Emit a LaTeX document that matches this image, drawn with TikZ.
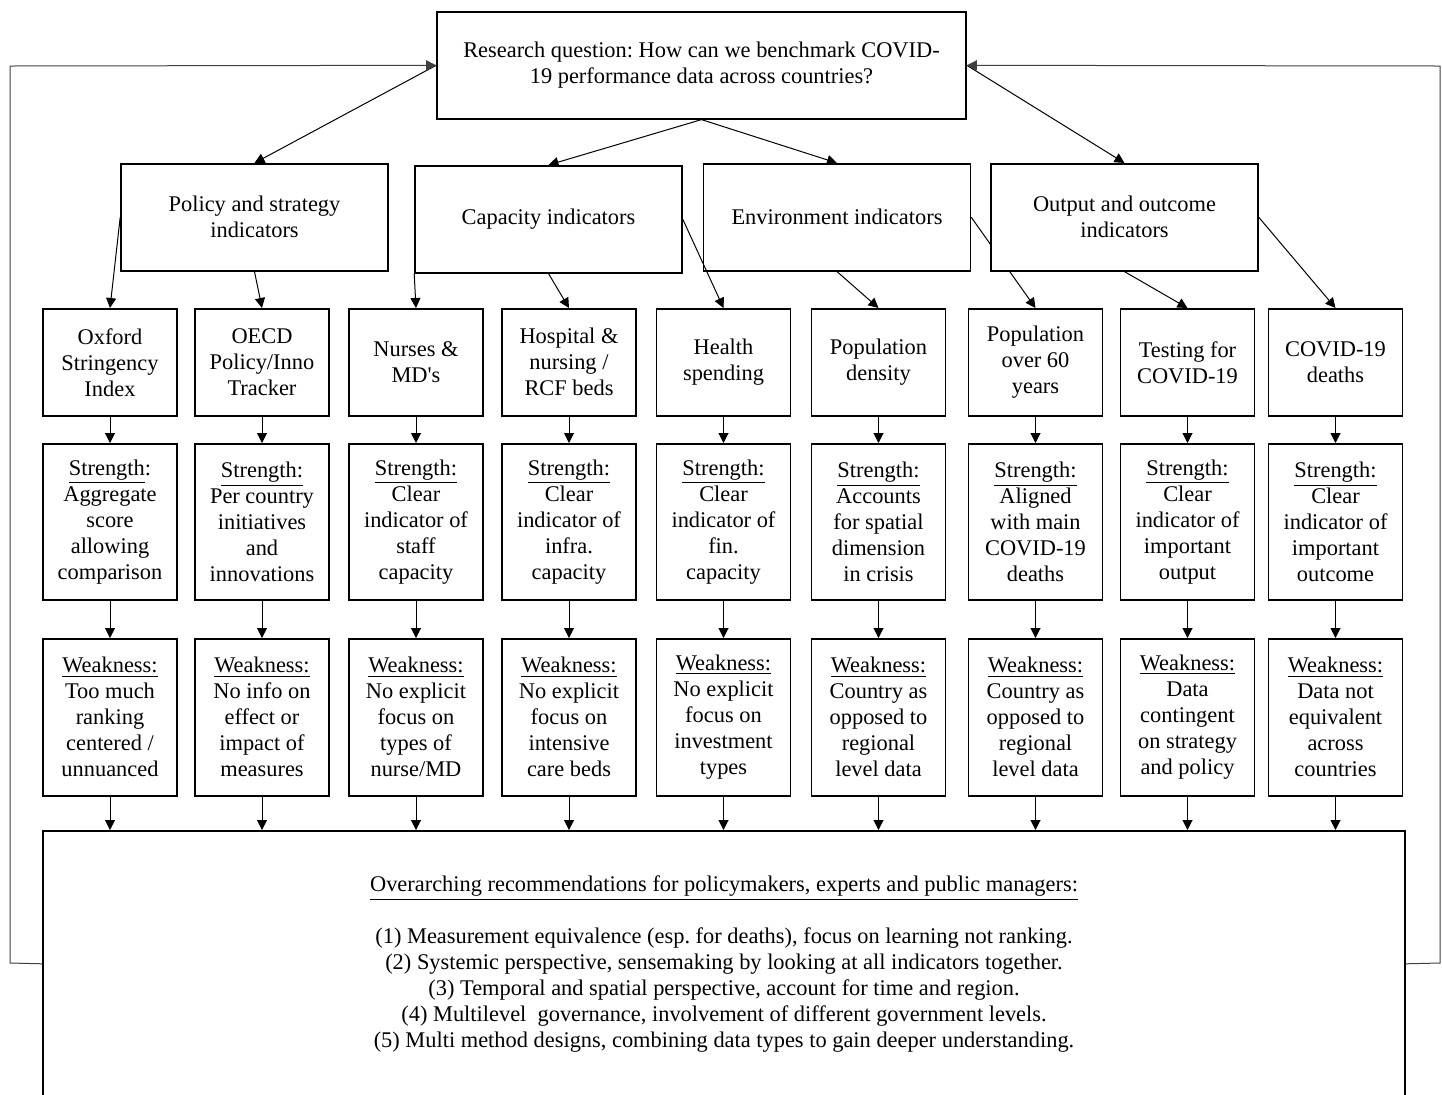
\documentclass[tikz,border=0pt]{standalone}
\usepackage{fontspec}
\setmainfont{Liberation Serif}
\usepackage{tikz}
\usetikzlibrary{positioning,arrows.meta,backgrounds}
\frenchspacing
\tikzset{
  box/.style={rectangle, draw=black, fill=white, line width=0.8pt,
              align=center, inner sep=2pt, font=\fontsize{11.2}{13}\selectfont},
  rq/.style={box, minimum width=264.5pt, minimum height=53.5pt, anchor=north},
  cat/.style={box, minimum width=133.5pt, minimum height=53.5pt, anchor=north},
  ind/.style={box, minimum width=67pt, minimum height=53.5pt, anchor=north},
  pro/.style={box, minimum width=67pt, minimum height=78pt, anchor=north},
  con/.style={box, minimum width=67pt, minimum height=78.5pt, anchor=north},
  recbox/.style={box, minimum width=681pt, minimum height=133pt, anchor=north},
  flow/.style={-{Triangle[length=5pt,width=5pt]}, line width=0.5pt, draw=black},
  back/.style={-{Triangle[length=5pt,width=5pt]}, line width=0.5pt, draw=black!75}
}
\newcommand{\sghead}{\underline{Strength:}}
\newcommand{\wkhead}{\underline{Weakness:}}

\begin{document}
\begin{tikzpicture}[x=0.5pt, y=-0.5pt]
\useasboundingbox (0,0) rectangle (1442,1094);
\clip (0,0) rectangle (1442,1094);

% question and indicator groups
\node[rq] (rq) at (701.5,11) {Research question: How can we benchmark COVID-\\19 performance data across countries?};
\node[cat] (pol) at (254.5,163) {Policy and strategy\\indicators};
\node[cat] (cap) at (548.5,165) {Capacity indicators};
\node[cat] (env) at (837,163) {Environment indicators};
\node[cat] (out) at (1124.5,163) {Output and outcome\\indicators};

% one column per indicator
\foreach \n/\x/\nm/\sg/\wk in {
  1/110/{Oxford\\Stringency\\Index}/{\underline{Strength}:\\Aggregate\\score\\allowing\\comparison}/{Too much\\ranking\\centered /\\unnuanced},
  2/262/{OECD\\Policy/Inno\\Tracker}/{\sghead\\Per country\\initiatives\\and\\innovations}/{No info on\\effect or\\impact of\\measures},
  3/416/{Nurses \&\\MD\textquotesingle s}/{\sghead\\Clear\\indicator of\\staff\\capacity}/{No explicit\\focus on\\types of\\nurse/MD},
  4/569/{Hospital \&\\nursing /\\RCF beds}/{\sghead\\Clear\\indicator of\\infra.\\capacity}/{No explicit\\focus on\\intensive\\care beds},
  5/723.5/{Health\\spending}/{\sghead\\Clear\\indicator of\\fin.\\capacity}/{No explicit\\focus on\\investment\\types},
  6/878.5/{Population\\density}/{\sghead\\Accounts\\for spatial\\dimension\\in crisis}/{Country as\\opposed to\\regional\\level data},
  7/1035.5/{Population\\over 60\\years}/{\sghead\\Aligned\\with main\\COVID-19\\deaths}/{Country as\\opposed to\\regional\\level data},
  8/1187.5/{Testing for\\COVID-19}/{\sghead\\Clear\\indicator of\\important\\output}/{Data\\contingent\\on strategy\\and policy},
  9/1335.5/{COVID-19\\deaths}/{\sghead\\Clear\\indicator of\\important\\outcome}/{Data not\\equivalent\\across\\countries}}{
  \node[ind] (i\n) at (\x,308) {\nm};
  \node[pro] (s\n) at (\x,443) {\sg};
  \node[con] (w\n) at (\x,638) {\wkhead\\\wk};
  \draw[flow] (i\n) -- (s\n);
  \draw[flow] (s\n) -- (w\n);
}

\node[recbox] (rec) at (724,830) {\underline{Overarching recommendations for policymakers, experts and public managers:}\\[13pt]
(1) Measurement equivalence (esp. for deaths), focus on learning not ranking.\\
(2) Systemic perspective, sensemaking by looking at all indicators together.\\
(3) Temporal and spatial perspective, account for time and region.\\
(4) Multilevel\ \ governance, involvement of different government levels.\\
(5) Multi method designs, combining data types to gain deeper understanding.};

% connectors
\draw[flow] (rq.west) -- (pol.north);
\draw[flow] (rq.south) -- (cap.north);
\draw[flow] (rq.south) -- (env.north);
\draw[flow] (rq.east) -- (out.north);
\draw[flow] (pol.west) -- (i1.north);
\draw[flow] (pol.south) -- (i2.north);
\draw[flow] (cap.south west) -- (i3.north);
\draw[flow] (cap.south) -- (i4.north);
\draw[flow] (cap.east) -- (i5.north);
\draw[flow] (env.south) -- (i6.north);
\begin{scope}[on background layer]
\draw[flow] (env.east) -- (i7.north);
\end{scope}
\draw[flow] (out.south) -- (i8.north);
\draw[flow] (out.east) -- (i9.north);
\foreach \n in {1,...,9}
  \draw[flow] (w\n.south) -- (w\n.south |- rec.north);

% feedback to the question
\draw[back] (rec.west) -- (10,963) -- (10,66) -- (rq.west);
\draw[back] (rec.east) -- (1440,963) -- (1440,66) -- (rq.east);
\end{tikzpicture}
\end{document}
